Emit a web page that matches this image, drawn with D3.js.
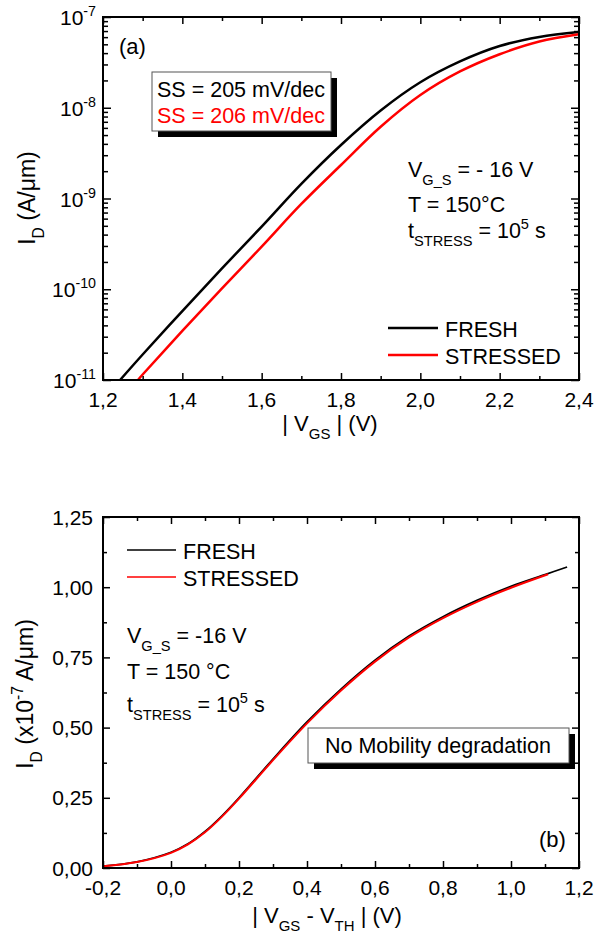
<!DOCTYPE html>
<html>
<head>
<meta charset="utf-8">
<script src="https://cdn.jsdelivr.net/npm/d3@7"></script>
<style>
body { margin: 0; background: #fff; }
text { font-family: "Liberation Sans", Arial, sans-serif; white-space: pre; }
</style>
</head>
<body>
<svg id="chart" width="597" height="938"></svg>
<script>
// (a) transfer curves, log scale (A/um)
var vgsFresh = [1.243, 1.30, 1.40, 1.50, 1.60, 1.70, 1.80, 1.90, 2.00, 2.10, 2.20, 2.30, 2.40];
var idFresh = [1.0e-11, 1.91e-11, 5.75e-11, 1.70e-10, 4.90e-10, 1.45e-9, 3.89e-9, 9.33e-9, 1.91e-8, 3.24e-8, 4.79e-8, 6.03e-8, 6.84e-8];
var vgsStress = [1.288, 1.30, 1.40, 1.50, 1.60, 1.70, 1.80, 1.90, 2.00, 2.10, 2.20, 2.30, 2.40];
var idStress = [1.0e-11, 1.15e-11, 3.47e-11, 1.02e-10, 2.95e-10, 8.71e-10, 2.34e-9, 6.17e-9, 1.38e-8, 2.51e-8, 3.89e-8, 5.37e-8, 6.46e-8];
var xTicksA = [1.2, 1.4, 1.6, 1.8, 2.0, 2.2, 2.4];
var xMinorA = [1.3, 1.5, 1.7, 1.9, 2.1, 2.3];
var yTicksA = [1e-11, 1e-10, 1e-9, 1e-8, 1e-7];

// (b) linear scale (x1e-7 A/um) vs |VGS - VTH|
var vovFresh = [-0.2, -0.1, 0.0, 0.05, 0.1, 0.15, 0.2, 0.3, 0.4, 0.5, 0.6, 0.7, 0.8, 0.9, 1.0, 1.1, 1.165];
var idLinFresh = [0.007, 0.022, 0.056, 0.086, 0.13, 0.186, 0.25, 0.388, 0.52, 0.637, 0.74, 0.826, 0.895, 0.953, 1.003, 1.045, 1.072];
var vovStress = [-0.2, -0.1, 0.0, 0.05, 0.1, 0.15, 0.2, 0.3, 0.4, 0.5, 0.6, 0.7, 0.8, 0.9, 1.0, 1.109];
var idLinStress = [0.006, 0.021, 0.054, 0.084, 0.127, 0.183, 0.247, 0.384, 0.515, 0.632, 0.735, 0.821, 0.890, 0.948, 0.998, 1.046];
var xTicksB = [-0.2, 0.0, 0.2, 0.4, 0.6, 0.8, 1.0, 1.2];
var xMinorB = [-0.1, 0.1, 0.3, 0.5, 0.7, 0.9, 1.1];
var yTicksB = [0, 0.25, 0.5, 0.75, 1.0, 1.25];
var yMinorB = [0.125, 0.375, 0.625, 0.875, 1.125];

var seriesNames = ['FRESH', 'STRESSED'];
var seriesColors = ['#000000', '#ff0000'];

var svg = d3.select('#chart');

var loc = d3.formatLocale({ decimal: ',', thousands: '.', grouping: [3], currency: ['', ''], minus: '-' });
var f1 = loc.format('.1f'), f2 = loc.format('.2f');

// inward ticks on one side of a frame
function ticksOn(g, scale, side, w, h, values, size) {
    var axis = side == 'bottom' ? d3.axisBottom(scale) : side == 'top' ? d3.axisTop(scale)
        : side == 'left' ? d3.axisLeft(scale) : d3.axisRight(scale);
    var pos = side == 'bottom' ? [0, h] : side == 'right' ? [w, 0] : [0, 0];
    g.append('g')
        .attr('transform', 'translate(' + pos + ')')
        .call(axis.tickValues(values).tickSize(-size).tickFormat(''))
        .call(function(a) { a.select('.domain').remove(); })
        .selectAll('line')
        .attr('stroke', '#000')
        .attr('stroke-width', 1.5);
}

// text with sub/superscripts
function rich(g, x, y, parts, size, anchor) {
    var t = g.append('text')
        .attr('x', x).attr('y', y)
        .attr('font-size', size)
        .attr('text-anchor', anchor || 'start');
    var shift = 0;
    parts.forEach(function(p) {
        var target = p.sub ? size * 0.38 : p.sup ? -size * 0.42 : 0;
        t.append('tspan')
            .attr('dy', target - shift)
            .attr('font-size', p.sub || p.sup ? size * 0.68 : size)
            .text(p.t);
        shift = target;
    });
    return t;
}

function shadowBox(x, y, w, h) {
    svg.append('rect').attr('x', x + 6).attr('y', y + 6).attr('width', w).attr('height', h).attr('fill', '#000');
    svg.append('rect').attr('x', x).attr('y', y).attr('width', w).attr('height', h)
        .attr('fill', '#fff').attr('stroke', '#555').attr('stroke-width', 1);
}

// ---------- Panel (a) ----------
var wA = 476, hA = 363;
var gA = svg.append('g').attr('transform', 'translate(103,17)');
var xA = d3.scaleLinear().domain([1.2, 2.4]).range([0, wA]);
var yA = d3.scaleLog().domain([1e-11, 1e-7]).range([hA, 0]);

gA.append('clipPath').attr('id', 'clipA')
    .append('rect').attr('width', wA).attr('height', hA);

var lineA = d3.line()
    .x(function(d) { return xA(d[0]); })
    .y(function(d) { return yA(d[1]); })
    .curve(d3.curveCatmullRom.alpha(0.5));

[d3.zip(vgsFresh, idFresh), d3.zip(vgsStress, idStress)].forEach(function(data, i) {
    gA.append('path')
        .datum(data)
        .attr('clip-path', 'url(#clipA)')
        .attr('d', lineA)
        .attr('fill', 'none')
        .attr('stroke', seriesColors[i])
        .attr('stroke-width', 2.5);
});

var yMinorA = yA.ticks().filter(function(v) { return yTicksA.indexOf(v) < 0; });
['bottom', 'top'].forEach(function(s) {
    ticksOn(gA, xA, s, wA, hA, xTicksA, 7);
    ticksOn(gA, xA, s, wA, hA, xMinorA, 4);
});
['left', 'right'].forEach(function(s) {
    ticksOn(gA, yA, s, wA, hA, yTicksA, 8);
    ticksOn(gA, yA, s, wA, hA, yMinorA, 5);
});
gA.append('rect').attr('width', wA).attr('height', hA)
    .attr('fill', 'none').attr('stroke', '#000').attr('stroke-width', 2);

xTicksA.forEach(function(v) {
    gA.append('text').attr('x', xA(v)).attr('y', hA + 27)
        .attr('font-size', 21).attr('text-anchor', 'middle').text(f1(v));
});
yTicksA.forEach(function(v) {
    var e = Math.round(Math.log10(v));
    rich(gA, -7, yA(v) + 8, [{ t: '10' }, { t: String(e), sup: true }], 21, 'end');
});

// axis titles (a)
rich(svg, 330, 431, [{ t: '| V' }, { t: 'GS', sub: true }, { t: ' | (V)' }], 22, 'middle');
rich(svg, 0, 0, [{ t: 'I' }, { t: 'D', sub: true }, { t: ' (A/μm)' }], 23, 'middle')
    .attr('transform', 'translate(35,198) rotate(-90)');

svg.append('text').attr('x', 119).attr('y', 54).attr('font-size', 22).text('(a)');

shadowBox(152, 72, 179, 59);
svg.append('text').attr('x', 157).attr('y', 97).attr('font-size', 21.5).attr('fill', '#000').text('SS = 205 mV/dec');
svg.append('text').attr('x', 157).attr('y', 123).attr('font-size', 21.5).attr('fill', '#ff0000').text('SS = 206 mV/dec');

rich(svg, 408, 177, [{ t: 'V' }, { t: 'G_S', sub: true }, { t: ' = - 16 V' }], 21.5);
rich(svg, 408, 212, [{ t: 'T = 150°C' }], 21.5);
rich(svg, 408, 238, [{ t: 't' }, { t: 'STRESS', sub: true }, { t: ' = 10' }, { t: '5', sup: true }, { t: ' s' }], 21.5);

seriesNames.forEach(function(n, i) {
    var y = 328 + i * 27;
    svg.append('line').attr('x1', 388).attr('x2', 438).attr('y1', y).attr('y2', y)
        .attr('stroke', seriesColors[i]).attr('stroke-width', 2.5);
    svg.append('text').attr('x', 445).attr('y', y + 8.5).attr('font-size', 21.5).text(n);
});

// ---------- Panel (b) ----------
var wB = 476, hB = 351;
var gB = svg.append('g').attr('transform', 'translate(103,517)');
var xB = d3.scaleLinear().domain([-0.2, 1.2]).range([0, wB]);
var yB = d3.scaleLinear().domain([0, 1.25]).range([hB, 0]);

var lineB = d3.line()
    .x(function(d) { return xB(d[0]); })
    .y(function(d) { return yB(d[1]); })
    .curve(d3.curveCatmullRom.alpha(0.5));

[d3.zip(vovFresh, idLinFresh), d3.zip(vovStress, idLinStress)].forEach(function(data, i) {
    gB.append('path')
        .datum(data)
        .attr('d', lineB)
        .attr('fill', 'none')
        .attr('stroke', seriesColors[i])
        .attr('stroke-width', i == 0 ? 1.8 : 2);
});

['bottom', 'top'].forEach(function(s) {
    ticksOn(gB, xB, s, wB, hB, xTicksB, 7);
    ticksOn(gB, xB, s, wB, hB, xMinorB, 4);
});
['left', 'right'].forEach(function(s) {
    ticksOn(gB, yB, s, wB, hB, yTicksB, 7);
    ticksOn(gB, yB, s, wB, hB, yMinorB, 4);
});
gB.append('rect').attr('width', wB).attr('height', hB)
    .attr('fill', 'none').attr('stroke', '#000').attr('stroke-width', 2);

xTicksB.forEach(function(v) {
    gB.append('text').attr('x', xB(v)).attr('y', hB + 27)
        .attr('font-size', 21).attr('text-anchor', 'middle').text(f1(v));
});
yTicksB.forEach(function(v) {
    gB.append('text').attr('x', -10).attr('y', yB(v) + 7.5)
        .attr('font-size', 21).attr('text-anchor', 'end').text(f2(v));
});

rich(svg, 327, 923, [{ t: '| V' }, { t: 'GS', sub: true }, { t: ' - V' }, { t: 'TH', sub: true }, { t: ' | (V)' }], 22, 'middle');
rich(svg, 0, 0, [{ t: 'I' }, { t: 'D', sub: true }, { t: ' (x10' }, { t: '-7', sup: true }, { t: ' A/μm)' }], 23, 'middle')
    .attr('transform', 'translate(33,694) rotate(-90)');

seriesNames.forEach(function(n, i) {
    var y = 550 + i * 27;
    svg.append('line').attr('x1', 127).attr('x2', 176).attr('y1', y).attr('y2', y)
        .attr('stroke', seriesColors[i]).attr('stroke-width', 1.6);
    svg.append('text').attr('x', 183).attr('y', y + 8.5).attr('font-size', 21.5).text(n);
});

rich(svg, 127, 643, [{ t: 'V' }, { t: 'G_S', sub: true }, { t: ' = -16 V' }], 21.5);
rich(svg, 127, 679, [{ t: 'T = 150 °C' }], 21.5);
rich(svg, 127, 712, [{ t: 't' }, { t: 'STRESS', sub: true }, { t: ' = 10' }, { t: '5', sup: true }, { t: ' s' }], 21.5);

shadowBox(308, 728, 261, 35);
svg.append('text').attr('x', 325).attr('y', 753).attr('font-size', 21.5).text('No Mobility degradation');

svg.append('text').attr('x', 539).attr('y', 847).attr('font-size', 22).text('(b)');
</script>
</body>
</html>
